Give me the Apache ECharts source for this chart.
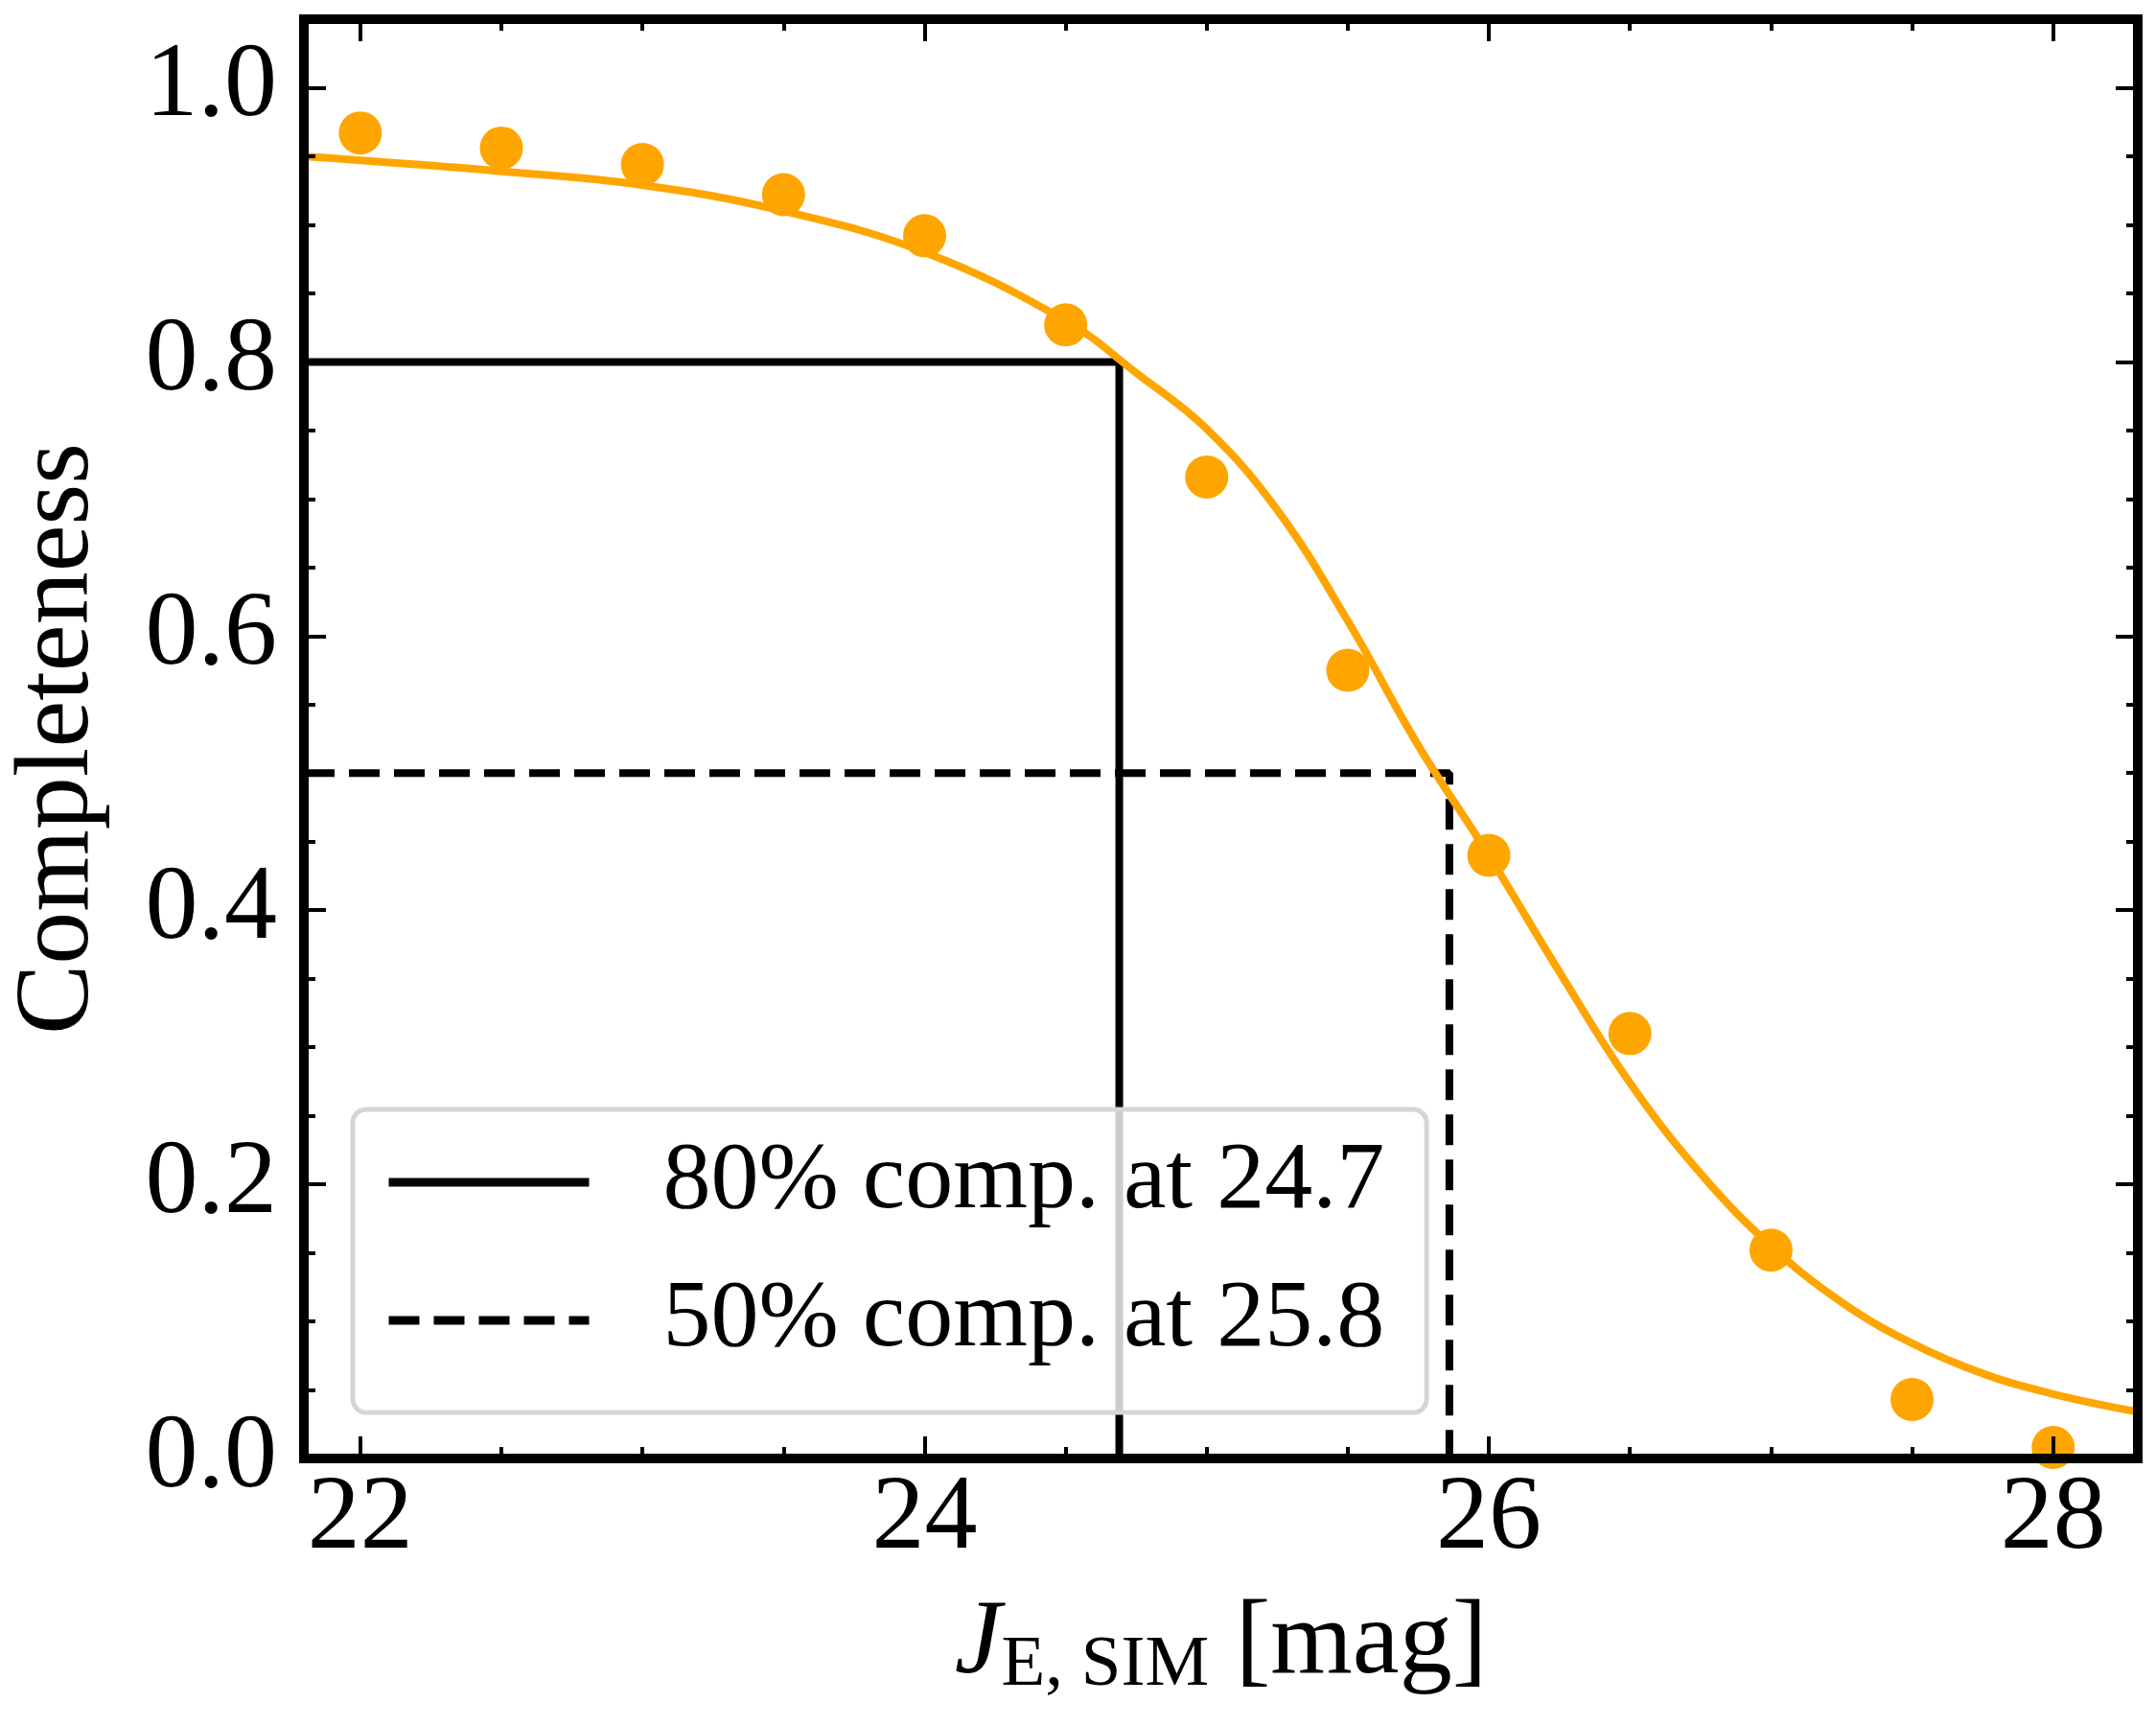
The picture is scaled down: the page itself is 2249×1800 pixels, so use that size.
<!DOCTYPE html>
<html>
<head>
<meta charset="utf-8">
<script src="https://cdn.jsdelivr.net/npm/echarts@6/dist/echarts.min.js"></script>
<style>
  html, body { margin: 0; padding: 0; background: #fff; }
  #chart { width: 2249px; height: 1800px; }
</style>
</head>
<body>
<div id="chart"></div>
<script>
// measured completeness per magnitude bin
var binMag = [22, 22.5, 23, 23.5, 24, 24.5, 25, 25.5, 26, 26.5, 27, 27.5, 28];
var binComp = [0.967, 0.956, 0.944, 0.922, 0.892, 0.827, 0.716, 0.575, 0.440, 0.310, 0.152, 0.043, 0.008];

// fitted curve
var fitMag = [21.8, 22, 22.5, 23, 23.5, 24, 24.5, 24.75, 25, 25.25, 25.5, 25.75, 26, 26.25, 26.5, 26.75, 27, 27.25, 27.5, 27.75, 28, 28.3];
var fitComp = [0.950, 0.947, 0.939, 0.929, 0.910, 0.880, 0.830, 0.792, 0.751, 0.692, 0.611, 0.520, 0.440, 0.355, 0.274, 0.208, 0.155, 0.114, 0.084, 0.062, 0.047, 0.034];

// completeness limits: [magnitude, level]
var limit80 = [24.69, 0.8];
var limit50 = [25.86, 0.5];
var legendNames = ['80% comp. at 24.7', '50% comp. at 25.8'];

// axis ranges and ticks
var xRange = [21.8, 28.3];
var yRange = [0, 1.05];
var xMajor = [22, 24, 26, 28];
var xMinor = [22.5, 23, 23.5, 24.5, 25, 25.5, 26.5, 27, 27.5];
var yMajor = [0, 0.2, 0.4, 0.6, 0.8, 1.0];
var yMinor = [0.05, 0.1, 0.15, 0.25, 0.3, 0.35, 0.45, 0.5, 0.55, 0.65, 0.7, 0.75, 0.85, 0.9, 0.95];

var FONT = 'Liberation Serif';
var ORANGE = '#ffa500';

function pairs(xs, ys) {
    var out = [];
    for (var i = 0; i < xs.length; i++) out.push([xs[i], ys[i]]);
    return out;
}

function makeAxis(range, pos, ticks, len, showLine, labels, fmt) {
    return {
        type: 'value',
        position: pos,
        min: range[0],
        max: range[1],
        z: 10,
        splitLine: { show: false },
        axisLine: { show: showLine, onZero: false, lineStyle: { color: '#000', width: 10, cap: 'square' } },
        axisTick: { show: true, inside: true, length: len, customValues: ticks, lineStyle: { color: '#000', width: 4 } },
        axisLabel: {
            show: labels, customValues: ticks, formatter: fmt,
            fontFamily: FONT, fontSize: 110, color: '#000',
            margin: (pos === 'left' ? 28 : 9)
        }
    };
}

var chart = echarts.init(document.getElementById('chart'));

var xMain = makeAxis(xRange, 'bottom', xMajor, 23, true, true, function (v) { return String(v); });
xMain.name = '{j|J}{s|E, SIM}{n| [mag]}';
xMain.nameLocation = 'middle';
xMain.nameGap = 134;
xMain.nameTextStyle = {
    fontFamily: FONT, fontSize: 110, color: '#000',
    rich: {
        j: { fontFamily: FONT, fontSize: 110, fontStyle: 'italic', lineHeight: 120, color: '#000' },
        s: { fontFamily: FONT, fontSize: 75, lineHeight: 70, verticalAlign: 'bottom', color: '#000' },
        n: { fontFamily: FONT, fontSize: 110, lineHeight: 120, color: '#000' }
    }
};

var yMain = makeAxis(yRange, 'left', yMajor, 23, true, true, function (v) { return v.toFixed(1); });
yMain.name = 'Completeness';
yMain.nameLocation = 'middle';
yMain.nameGap = 200;
yMain.nameTextStyle = { fontFamily: FONT, fontSize: 110, color: '#000' };

chart.setOption({
    animation: false,
    backgroundColor: '#fff',
    grid: { left: 317, right: 19, top: 20, bottom: 279, outerBoundsMode: 'none', containLabel: false },
    xAxis: [
        xMain,
        makeAxis(xRange, 'bottom', xMinor, 12, false, false),
        makeAxis(xRange, 'top', xMajor, 23, true, false),
        makeAxis(xRange, 'top', xMinor, 12, false, false)
    ],
    yAxis: [
        yMain,
        makeAxis(yRange, 'left', yMinor, 12, false, false),
        makeAxis(yRange, 'right', yMajor, 23, true, false),
        makeAxis(yRange, 'right', yMinor, 12, false, false)
    ],
    legend: {
        orient: 'vertical',
        left: 368,
        top: 1157,
        data: legendNames,
        itemWidth: 209,
        itemHeight: 110,
        itemGap: 34,
        padding: [21, 44, 41, 33],
        backgroundColor: 'rgba(255,255,255,0.8)',
        borderColor: '#d5d5d5',
        borderWidth: 5,
        borderRadius: 14,
        itemStyle: { opacity: 0 },
        lineStyle: { width: 9 },
        textStyle: { fontFamily: FONT, fontSize: 100, lineHeight: 110, color: '#000', padding: [0, 0, 0, 72] }
    },
    series: [
        {
            name: legendNames[0],
            type: 'line',
            symbol: 'none',
            data: [[xRange[0], limit80[1]], [limit80[0], limit80[1]], [limit80[0], yRange[0]]],
            lineStyle: { color: '#000', width: 8 },
            itemStyle: { color: '#000' }
        },
        {
            name: legendNames[1],
            type: 'line',
            symbol: 'none',
            data: [[xRange[0], limit50[1]], [limit50[0], limit50[1]], [limit50[0], yRange[0]]],
            lineStyle: { color: '#000', width: 8, type: [32, 15] },
            itemStyle: { color: '#000' }
        },
        {
            name: 'fit',
            type: 'line',
            symbol: 'none',
            smooth: 0.4,
            data: pairs(fitMag, fitComp),
            lineStyle: { color: ORANGE, width: 8 },
            itemStyle: { color: ORANGE }
        },
        {
            name: 'bins',
            type: 'scatter',
            symbolSize: 45,
            data: pairs(binMag, binComp),
            itemStyle: { color: ORANGE, opacity: 1 }
        }
    ]
});
</script>
</body>
</html>
